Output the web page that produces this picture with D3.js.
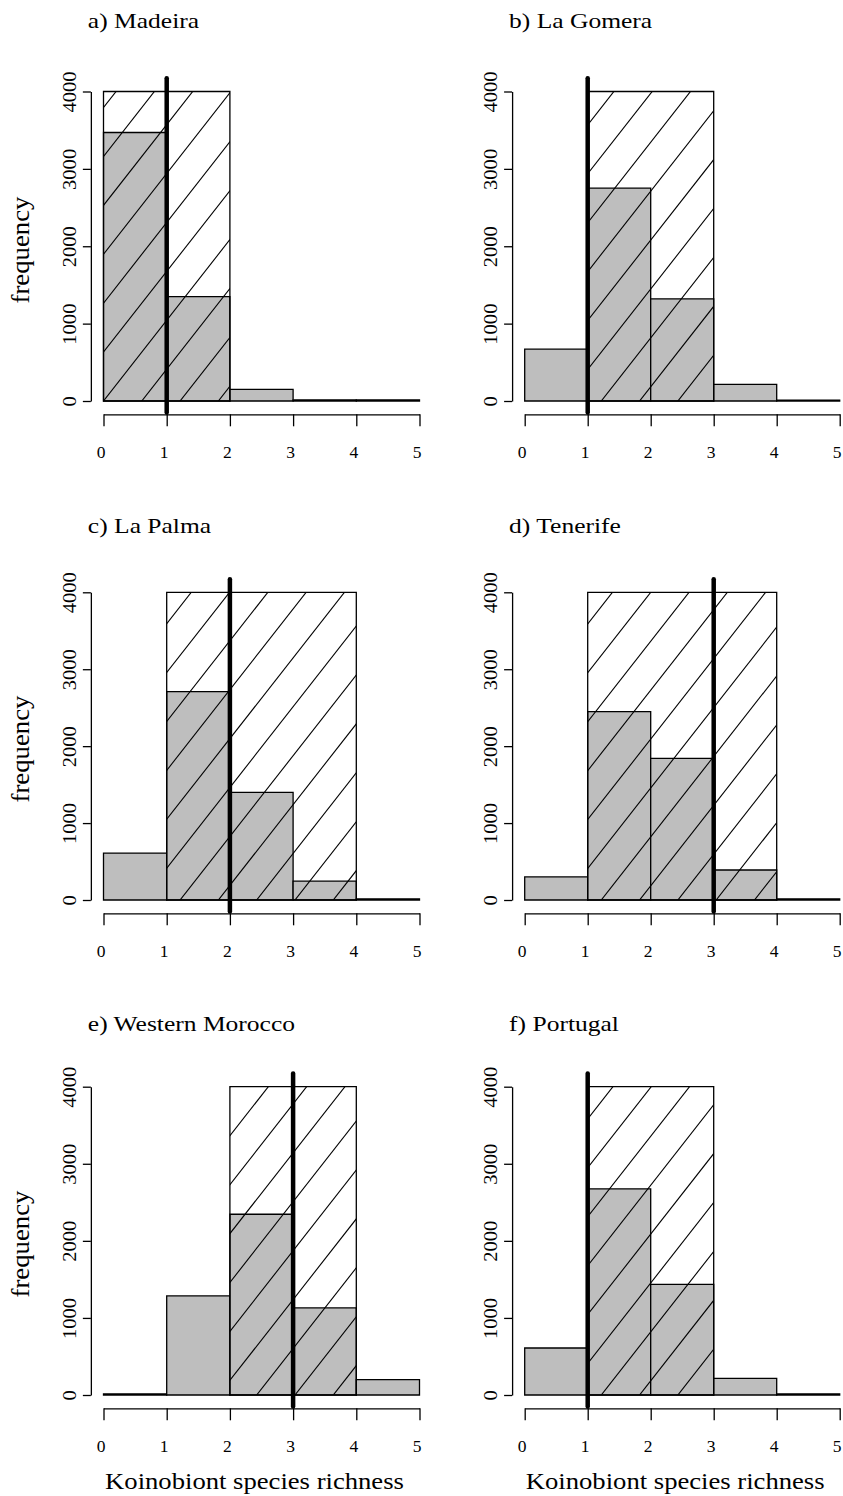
<!DOCTYPE html>
<html>
<head>
<meta charset="utf-8">
<script src="https://cdn.jsdelivr.net/npm/d3@7"></script>
<style>
  html, body { margin: 0; padding: 0; background: #ffffff; }
  svg { display: block; }
  text { font-family: "Liberation Serif", "Times New Roman", Times, serif; fill: #000; }
</style>
</head>
<body>
<script>
// Richness bins (left edges) and axis ticks
const binStarts = [0, 1, 2, 3, 4];
const xTicks = [0, 1, 2, 3, 4, 5];
const yTicks = [0, 1000, 2000, 3000, 4000];

// Panel titles
const regions = ["a) Madeira", "b) La Gomera", "c) La Palma", "d) Tenerife", "e) Western Morocco", "f) Portugal"];

// Simulated frequencies per richness bin (0-1, 1-2, 2-3, 3-4, 4-5)
const madeira        = [3470, 1350, 150, 15, 15];
const laGomera       = [670, 2750, 1320, 215, 10];
const laPalma        = [610, 2710, 1400, 245, 15];
const tenerife       = [300, 2450, 1840, 390, 15];
const westernMorocco = [15, 1285, 2345, 1130, 200];
const portugal       = [610, 2675, 1435, 215, 15];
const frequencies = [madeira, laGomera, laPalma, tenerife, westernMorocco, portugal];

// Hatched interval (richness range) per region, drawn up to a fixed height
const rangeLow  = [0, 1, 1, 1, 2, 1];
const rangeHigh = [2, 3, 4, 4, 4, 3];
const rangeTop = 4000;

// Observed richness per region (thick vertical line)
const observed = [1, 1, 2, 3, 3, 1];
const observedTop = 4170;
const observedBottom = -150;

// Axis titles
const yTitle = "frequency";
const xTitle = "Koinobiont species richness";

// ---- layout ----
const W = 843, H = 1496;
const cols = [{ x0: 103.5, x5: 419.5 }, { x0: 524.7, x5: 839.7 }];
const rows = [
  { y0: 401, h: 309.5, titleY: 28 },
  { y0: 900, h: 307.7, titleY: 533 },
  { y0: 1395, h: 308.3, titleY: 1031 }
];
const hatchSpacing = 38.3;   // horizontal distance between hatch lines (px)
const hatchSlope = 1.277;    // rise over run of hatch lines
const grey = "#bebebe";

const svg = d3.select("body").append("svg")
  .attr("width", W).attr("height", H)
  .attr("viewBox", `0 0 ${W} ${H}`);
svg.append("rect").attr("width", W).attr("height", H).attr("fill", "#fff");
const defs = svg.append("defs");

regions.forEach((title, i) => {
  const col = cols[i % 2], row = rows[Math.floor(i / 2)];
  const x = d3.scaleLinear().domain([0, 5]).range([col.x0, col.x5]);
  const y = d3.scaleLinear().domain([0, 4000]).range([row.y0, row.y0 - row.h]);
  const g = svg.append("g").attr("class", "panel");
  const axisX = x(-0.2);
  const axisY = y(0) + 13.3;

  // title
  g.append("text")
    .attr("transform", `translate(${axisX - 3},${row.titleY}) scale(1.16,1)`)
    .attr("font-size", 22)
    .text(title);

  // histogram bars
  const vals = frequencies[i];
  g.selectAll("path.bar").data(binStarts).join("path")
    .attr("class", "bar")
    .attr("d", (b, j) => `M${x(b)},${y(0)}V${y(vals[j])}H${x(b + 1)}V${y(0)}Z`)
    .attr("fill", grey)
    .attr("stroke", "#000")
    .attr("stroke-width", 1.3);

  // hatched interval
  const clipId = "hatch-clip-" + i;
  defs.append("clipPath").attr("id", clipId)
    .append("rect")
    .attr("x", x(rangeLow[i]))
    .attr("y", y(rangeTop))
    .attr("width", x(rangeHigh[i]) - x(rangeLow[i]))
    .attr("height", y(0) - y(rangeTop));
  const ks = d3.range(-12, 14);
  const reach = 420;
  g.append("g").attr("clip-path", `url(#${clipId})`)
    .selectAll("line").data(ks).join("line")
    .attr("x1", k => x(0) + k * hatchSpacing - 40)
    .attr("y1", y(0) + 40 * hatchSlope)
    .attr("x2", k => x(0) + k * hatchSpacing + reach)
    .attr("y2", y(0) - reach * hatchSlope)
    .attr("stroke", "#000")
    .attr("stroke-width", 1.1);
  g.append("path")
    .attr("d", `M${x(rangeLow[i])},${y(0)}V${y(rangeTop)}H${x(rangeHigh[i])}V${y(0)}Z`)
    .attr("fill", "none")
    .attr("stroke", "#000")
    .attr("stroke-width", 1.3);

  // y axis
  const ya = g.append("g")
    .attr("transform", `translate(${axisX},0)`)
    .call(d3.axisLeft(y).tickValues(yTicks).tickSize(8).tickSizeOuter(0).tickFormat(d3.format("d")));
  ya.attr("font-family", null).attr("font-size", null);
  ya.select(".domain").attr("stroke-width", 1.3);
  ya.selectAll(".tick line").attr("stroke-width", 1.3);
  ya.selectAll(".tick text")
    .attr("transform", "translate(-15,0) rotate(-90) scale(1.08,1)")
    .attr("x", 0).attr("y", 0).attr("dy", 0)
    .attr("text-anchor", "middle")
    .attr("font-size", 19);

  // x axis
  const xa = g.append("g")
    .attr("transform", `translate(0,${axisY})`)
    .call(d3.axisBottom(x).tickValues(xTicks).tickSize(12).tickSizeOuter(0).tickFormat(d3.format("d")));
  xa.attr("font-family", null).attr("font-size", null);
  xa.select(".domain").attr("stroke-width", 1.3);
  xa.selectAll(".tick line").attr("stroke-width", 1.3);
  xa.selectAll(".tick text")
    .attr("y", 44).attr("dy", 0).attr("dx", -3)
    .attr("font-size", 17.5);

  // observed richness
  g.append("line")
    .attr("x1", x(observed[i])).attr("x2", x(observed[i]))
    .attr("y1", y(observedTop)).attr("y2", y(observedBottom))
    .attr("stroke", "#000")
    .attr("stroke-width", 4.5)
    .attr("stroke-linecap", "round");

  // axis titles
  if (i % 2 === 0) {
    g.append("text")
      .attr("transform", `translate(28.5,${row.y0 - 151}) rotate(-90) scale(1.07,1)`)
      .attr("text-anchor", "middle")
      .attr("font-size", 25)
      .text(yTitle);
  }
  if (Math.floor(i / 2) === rows.length - 1) {
    g.append("text")
      .attr("transform", `translate(${x(2.5) - 7},${row.y0 + 94}) scale(1.11,1)`)
      .attr("text-anchor", "middle")
      .attr("font-size", 24)
      .text(xTitle);
  }
});
</script>
</body>
</html>
